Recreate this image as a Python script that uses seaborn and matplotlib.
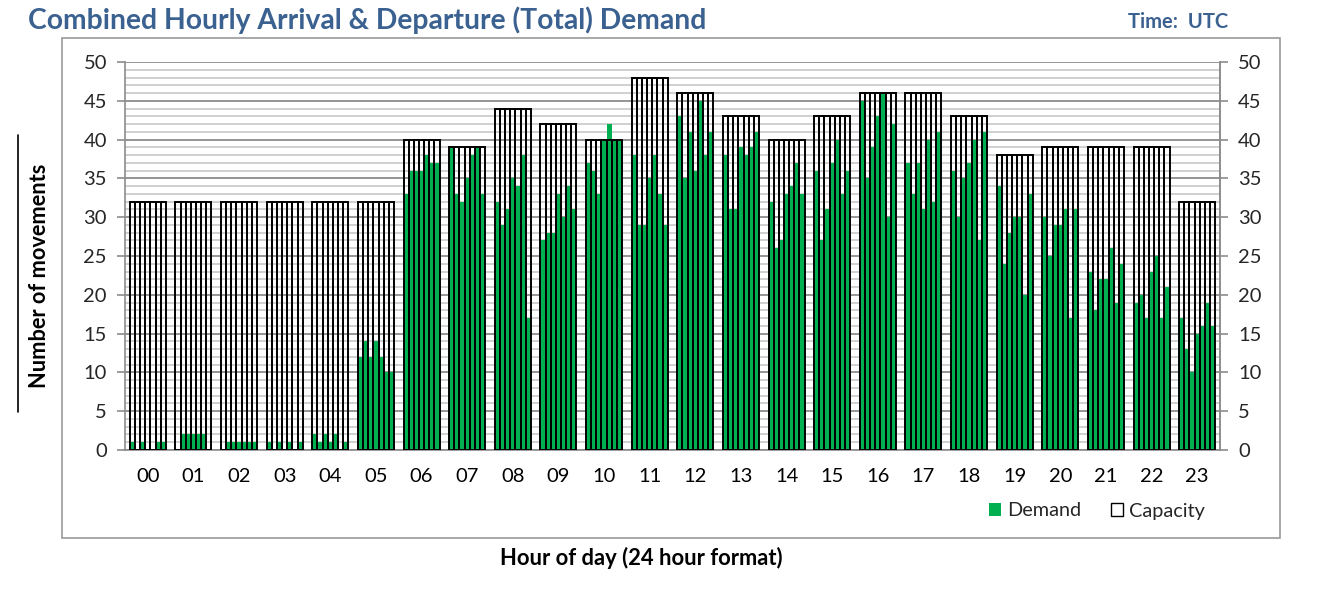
import numpy as np
import pandas as pd
import matplotlib
matplotlib.use("Agg")
import matplotlib.pyplot as plt
from matplotlib.patches import Rectangle, Patch
from matplotlib.lines import Line2D
import seaborn as sns

# ---------------- data ----------------
hours = ["00", "01", "02", "03", "04", "05", "06", "07", "08", "09", "10", "11",
         "12", "13", "14", "15", "16", "17", "18", "19", "20", "21", "22", "23"]
capacity = [32, 32, 32, 32, 32, 32, 40, 39, 44, 42, 40, 48,
            46, 43, 40, 43, 46, 46, 43, 38, 39, 39, 39, 32]
demand = [
    [1, 0, 1, 0, 0, 1, 1],        # 00
    [0, 2, 2, 2, 2, 2, 0],        # 01
    [0, 1, 1, 1, 1, 1, 1],        # 02
    [1, 0, 1, 0, 1, 0, 1],        # 03
    [2, 1, 2, 1, 2, 0, 1],        # 04
    [12, 14, 12, 14, 12, 10, 10], # 05
    [33, 36, 36, 36, 38, 37, 37], # 06
    [39, 33, 32, 35, 38, 39, 33], # 07
    [32, 29, 31, 35, 34, 38, 17], # 08
    [27, 28, 28, 33, 30, 34, 31], # 09
    [37, 36, 33, 40, 42, 40, 40], # 10
    [38, 29, 29, 35, 38, 33, 29], # 11
    [43, 35, 41, 36, 45, 38, 41], # 12
    [38, 31, 31, 39, 38, 39, 41], # 13
    [32, 26, 27, 33, 34, 37, 33], # 14
    [36, 27, 31, 37, 40, 33, 36], # 15
    [45, 35, 39, 43, 46, 30, 42], # 16
    [37, 33, 37, 31, 40, 32, 41], # 17
    [36, 30, 35, 37, 40, 27, 41], # 18
    [34, 24, 28, 30, 30, 20, 33], # 19
    [30, 25, 29, 29, 31, 17, 31], # 20
    [23, 18, 22, 22, 26, 19, 24], # 21
    [19, 20, 17, 23, 25, 17, 21], # 22
    [17, 13, 10, 15, 16, 19, 16], # 23
]
y_ticks = list(range(0, 51, 5))

title = "Combined Hourly Arrival & Departure (Total) Demand"
time_label = "Time:  UTC"
y_label = "Number of movements"
x_label = "Hour of day (24 hour format)"

# ---------------- style ----------------
sns.set_theme(style="white")
plt.rcParams["font.family"] = ["Lato", "DejaVu Sans"]

GREEN = "#00B050"
BLUE = "#3A6190"
GRID_MAJOR = "#8C8C8C"
GRID_MINOR = "#C4C4C4"
AXIS_GRAY = "#8C8C8C"

n_slots = len(demand[0])
group_w = 0.79
slot_w = group_w / n_slots

rows = []
for h, (vals, cap) in enumerate(zip(demand, capacity)):
    for k, v in enumerate(vals):
        pos = h - group_w / 2 + (k + 0.5) * slot_w
        rows.append({"pos": pos, "demand": v, "capacity": cap})
df = pd.DataFrame(rows)

fig = plt.figure(figsize=(13.25, 6.04), dpi=100)
ax = fig.add_axes([125 / 1325, 154 / 604, (1220 - 125) / 1325, (450 - 62) / 604])

# outer chart-area frame
fig.patches.append(Rectangle((62 / 1325, 66 / 604), (1280 - 62) / 1325, 500 / 604,
                             transform=fig.transFigure, fill=False,
                             edgecolor="#9A9A9A", linewidth=1.2, zorder=0))

# grid lines
for v in range(0, 51):
    major = (v % 5 == 0)
    ax.axhline(v, color=GRID_MAJOR if major else GRID_MINOR,
               linewidth=1.3 if major else 1.1, zorder=0.5)

# demand bars (seaborn)
sns.barplot(data=df, x="pos", y="demand", native_scale=True, color=GREEN,
            saturation=1, errorbar=None, width=1.0, linewidth=0, ax=ax, zorder=2)

# capacity bars (outline only)
ax.bar(df["pos"], df["capacity"], width=slot_w, facecolor="none",
       edgecolor="black", linewidth=1.4, zorder=3)

ax.set_xlim(-0.5, len(hours) - 0.5)
ax.set_ylim(0, 50)
ax.set_xticks(range(len(hours)))
ax.set_xticklabels(hours)
ax.set_xticks(np.arange(-0.5, len(hours)), minor=True)
ax.set_yticks(y_ticks)
ax.set_xlabel("")
ax.set_ylabel("")
ax.tick_params(axis="x", which="major", length=0, pad=13, labelsize=14.5, colors="black")
ax.tick_params(axis="x", which="minor", length=6, width=1.2, color=AXIS_GRAY, direction="out")
ax.tick_params(axis="y", which="major", length=6, width=1.2, color=AXIS_GRAY,
               direction="out", labelsize=14.5, pad=7)
for s in ["left", "right", "bottom"]:
    ax.spines[s].set_color(AXIS_GRAY)
    ax.spines[s].set_linewidth(1.2)
ax.spines["top"].set_visible(False)

ax2 = ax.twinx()
ax2.set_ylim(0, 50)
ax2.set_yticks(y_ticks)
ax2.tick_params(axis="y", which="major", length=6, width=1.2, color=AXIS_GRAY,
                direction="out", labelsize=14.5, pad=7)
for s in ["left", "right", "bottom", "top"]:
    ax2.spines[s].set_visible(False)
ax2.spines["right"].set_visible(True)
ax2.spines["right"].set_color(AXIS_GRAY)
ax2.spines["right"].set_linewidth(1.2)

# texts
fig.text(28 / 1325, 1 - 20 / 604, title, ha="left", va="center",
         fontsize=20.3, fontweight="bold", color=BLUE)
fig.text(1228 / 1325, 1 - 22 / 604, time_label, ha="right", va="center",
         fontsize=14.5, fontweight="bold", color=BLUE)
fig.text(40 / 1325, 1 - 276 / 604, y_label, rotation=90, ha="center", va="center",
         fontsize=15.7, fontweight="bold", color="black")
fig.text(641 / 1325, 1 - 558 / 604, x_label, ha="center", va="center",
         fontsize=15.8, fontweight="bold", color="black")
fig.lines.append(Line2D([18 / 1325, 18 / 1325], [1 - 412 / 604, 1 - 135 / 604],
                        transform=fig.transFigure, color="black", linewidth=1.2))

handles = [Patch(facecolor=GREEN, edgecolor="none", label="Demand"),
           Patch(facecolor="white", edgecolor="black", linewidth=1.0, label="Capacity")]
fig.legend(handles=handles, loc="center", bbox_to_anchor=(1097 / 1325, 1 - 511 / 604),
           ncol=2, frameon=False, fontsize=14.3, handlelength=0.62, handleheight=0.62,
           handletextpad=0.3, columnspacing=1.5, borderaxespad=0)

fig.savefig("out.png", dpi=100)
